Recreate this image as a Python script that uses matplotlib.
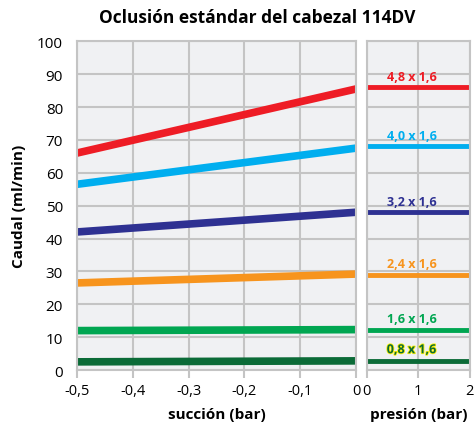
import matplotlib.pyplot as plt
import matplotlib.patheffects as pe
from matplotlib import font_manager

# suction side (bar) and pressure side (bar)
succion = [-0.5, 0.0]
presion = [0.0, 2.0]

tubos = ['4,8 x 1,6', '4,0 x 1,6', '3,2 x 1,6', '2,4 x 1,6', '1,6 x 1,6', '0,8 x 1,6']
colores = ['#ee1c25', '#00aeef', '#2e3192', '#f7941d', '#00a651', '#0b6b37']
caudal_succion = [[66.0, 85.5], [56.5, 67.5], [42.0, 48.0], [26.5, 29.2], [12.0, 12.3], [2.5, 2.8]]
caudal_presion = [[86.0, 86.0], [68.0, 68.0], [48.0, 48.0], [29.0, 29.0], [12.2, 12.2], [2.8, 2.8]]

xticks_izq = [-0.5, -0.4, -0.3, -0.2, -0.1, 0.0]
xlabels_izq = ['-0,5', '-0,4', '-0,3', '-0,2', '-0,1', '0']
xticks_der = [0, 1, 2]
yticks = list(range(0, 101, 10))

names = {f.name for f in font_manager.fontManager.ttflist}
fam = 'Open Sans' if 'Open Sans' in names else 'DejaVu Sans'
plt.rcParams['font.family'] = fam

fondo = '#f0f1f3'
rejilla = '#c4c4c4'

fig = plt.figure(figsize=(4.74, 4.27), dpi=100)
ax1 = fig.add_axes([0.1624, 0.131, 0.5886, 0.770])
ax2 = fig.add_axes([0.774, 0.131, 0.217, 0.770])

for ax in (ax1, ax2):
    ax.set_facecolor(fondo)
    ax.set_ylim(0, 100)
    ax.set_yticks(yticks)
    ax.grid(True, color=rejilla, linewidth=1.5)
    ax.set_axisbelow(True)
    for s in ax.spines.values():
        s.set_color(rejilla)
        s.set_linewidth(1.5)
    ax.tick_params(axis='x', color=rejilla, width=1.5, length=6, labelsize=10.5)
    ax.tick_params(axis='y', length=0, labelsize=11, pad=10)

for vals, c in zip(caudal_succion, colores):
    ax1.plot(succion, vals, color=c, linewidth=5.5, solid_capstyle='butt')
for vals, c, t in zip(caudal_presion, colores, tubos):
    ax2.plot(presion, vals, color=c, linewidth=3.5, solid_capstyle='butt')
    txt = ax2.text(0.87, vals[0] + 1.4, t, color=c, fontsize=9, fontweight='bold',
                   ha='center', va='bottom')
    if t == '0,8 x 1,6':
        txt.set_path_effects([pe.withStroke(linewidth=1.2, foreground='#fff200')])

ax1.set_xlim(-0.5, 0)
ax1.set_xticks(xticks_izq)
ax1.set_xticklabels(xlabels_izq)
ax1.set_xlabel('succión (bar)', fontweight='bold', fontsize=11, labelpad=6)
ax1.set_ylabel('Caudal (ml/min)', fontweight='bold', fontsize=11, labelpad=8)

ax2.set_xlim(0, 2)
ax2.set_xticks(xticks_der)
ax2.set_xticklabels([str(v) for v in xticks_der])
ax2.set_yticklabels([])
ax2.set_xlabel('presión (bar)', fontweight='bold', fontsize=11, labelpad=6)

fig.suptitle('Oclusión estándar del cabezal 114DV', fontweight='bold', fontsize=12.5,
             x=0.542, y=0.978)

fig.savefig('out.png', dpi=100, facecolor='white')
